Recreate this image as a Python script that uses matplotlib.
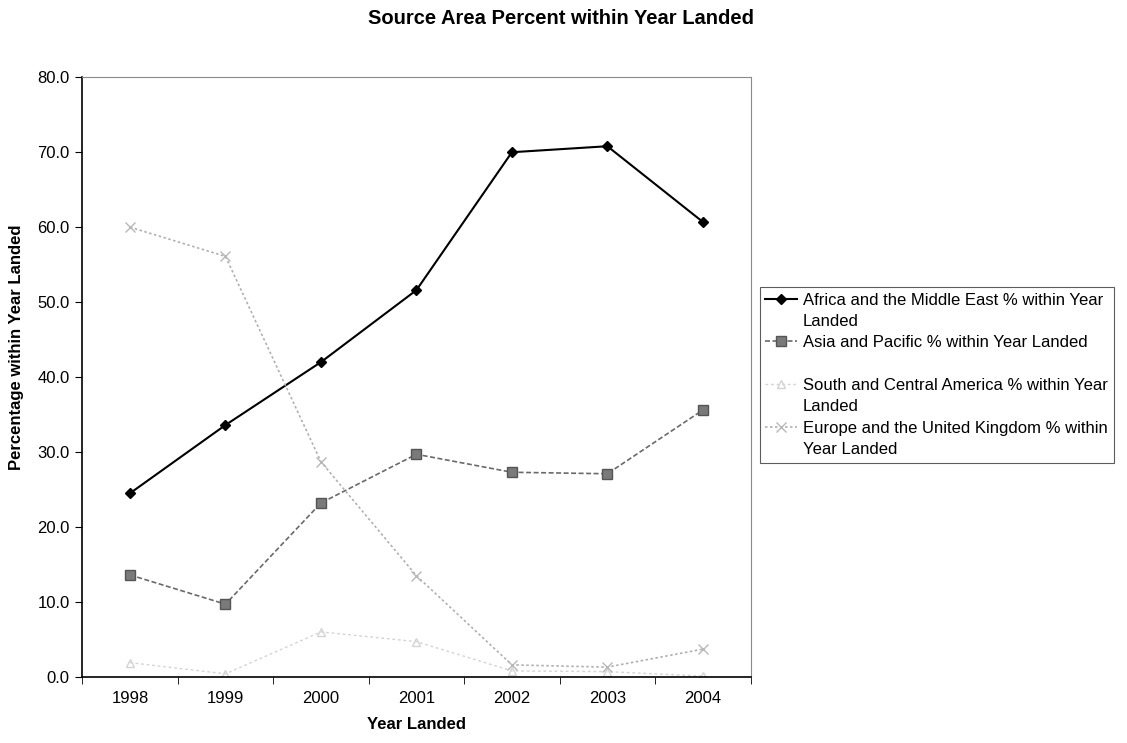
import matplotlib
matplotlib.use("Agg")
import matplotlib.pyplot as plt
from matplotlib.lines import Line2D
import numpy as np

plt.rcParams['font.family'] = ['Liberation Sans', 'DejaVu Sans']

years = ["1998", "1999", "2000", "2001", "2002", "2003", "2004"]
africa_me = [24.5, 33.6, 42.0, 51.6, 70.0, 70.8, 60.7]
asia_pacific = [13.6, 9.7, 23.2, 29.7, 27.3, 27.1, 35.6]
south_central_america = [1.9, 0.4, 6.0, 4.7, 0.8, 0.7, 0.1]
europe_uk = [60.0, 56.1, 28.7, 13.5, 1.6, 1.3, 3.7]

# each legend entry wraps onto two rows
legend_rows = [
    ("Africa and the Middle East % within Year", "Landed"),
    ("Asia and Pacific % within Year Landed", ""),
    ("South and Central America % within Year", "Landed"),
    ("Europe and the United Kingdom % within", "Year Landed"),
]

fig = plt.figure(figsize=(11.27, 7.43), dpi=100)
ax = fig.add_axes([0.073, 0.089, 0.593, 0.807])

x = np.arange(len(years))
h_af, = ax.plot(x, africa_me, color="black", lw=1.5, marker="D", ms=5.5)
h_as, = ax.plot(x, asia_pacific, color="#6a6a6a", lw=1.2, ls=(0, (3, 1.5)),
                marker="s", ms=7, mfc="#7a7a7a", mec="#555555")
h_sa, = ax.plot(x, south_central_america, color="#d4d4d4", lw=1.0,
                ls=(0, (2, 2)), marker="^", ms=6, mfc="none", mec="#d4d4d4")
h_eu, = ax.plot(x, europe_uk, color="#b0b0b0", lw=1.2, ls=(0, (1.5, 1.5)),
                marker="x", ms=7, mew=1.0, mec="#b8b8b8")

ax.set_xlim(-0.5, len(years) - 0.5)
ax.set_ylim(0, 80)
yt = np.arange(0, 81, 10)
ax.set_yticks(yt)
ax.set_yticklabels([f"{v:.1f}" for v in yt], fontsize=12)
ax.set_xticks(x)
ax.set_xticklabels(years, fontsize=12)
ax.set_xticks(np.arange(-0.5, len(years)), minor=True)
ax.tick_params(axis="x", which="major", length=0, pad=10)
ax.tick_params(axis="x", which="minor", length=5, direction="out", color="black")
ax.tick_params(axis="y", length=5, direction="out", pad=4)

for side in ("top", "right"):
    ax.spines[side].set_color("#8a8a8a")
    ax.spines[side].set_linestyle((0, (2, 1)))
    ax.spines[side].set_linewidth(0.8)
for side in ("left", "bottom"):
    ax.spines[side].set_color("black")
    ax.spines[side].set_linewidth(1.2)

ax.set_xlabel("Year Landed", fontsize=12, fontweight="bold", labelpad=8)
ax.set_ylabel("Percentage within Year Landed", fontsize=12, fontweight="bold")
ax.yaxis.set_label_coords(-0.087, 0.55)

fig.text(0.498, 0.975, "Source Area Percent within Year Landed", ha="center",
         va="center", fontsize=14.5, fontweight="bold")

blank = Line2D([], [], linestyle="none")
handles, labels = [], []
for h, (first, second) in zip([h_af, h_as, h_sa, h_eu], legend_rows):
    handles += [h, blank]
    labels += [first, second if second else " "]

leg = fig.legend(handles, labels, loc="upper left",
                 bbox_to_anchor=(0.674, 0.614), fontsize=12,
                 frameon=True, fancybox=False, edgecolor="#333333",
                 handlelength=1.9, borderpad=0.35, labelspacing=0.38,
                 handletextpad=0.35, borderaxespad=0)
leg.get_frame().set_linewidth(0.8)

fig.savefig("out.png", dpi=100, facecolor="white")
